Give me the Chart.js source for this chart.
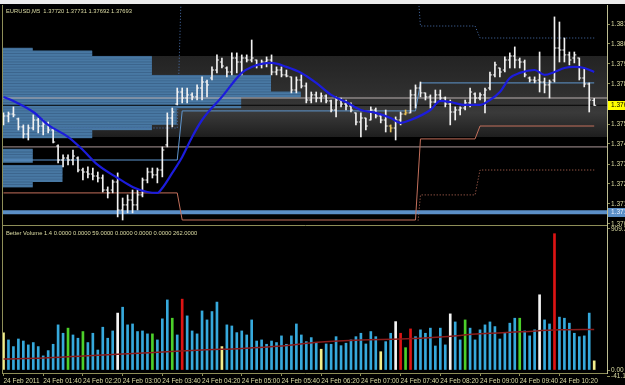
<!DOCTYPE html>
<html><head><meta charset="utf-8">
<script src="https://cdn.jsdelivr.net/npm/chart.js@4/dist/chart.umd.min.js"></script>
<style>
html,body{margin:0;padding:0;background:#000;width:625px;height:385px;overflow:hidden}
#topbar{position:absolute;left:0;top:0;width:625px;height:4px;background:#ececec}
canvas{position:absolute;left:0;top:0}
</style></head><body>
<div id="topbar"></div>
<canvas id="main" width="625" height="385"></canvas>
<canvas id="vol" width="625" height="385"></canvas>
<script>
// ---------------- DATA ----------------
const symbolTitle = 'EURUSD,M5  1.37720 1.37731 1.37692 1.37693';
const volumeTitle = 'Better Volume 1.4 0.0000 0.0000 59.0000 0.0000 0.0000 0.0000 262.0000';

const timeLabelBars = [0,8,16,24,32,40,48,56,64,72,80,88,96,104,112];
const timeLabels = ['24 Feb 2011','24 Feb 01:40','24 Feb 02:20','24 Feb 03:00','24 Feb 03:40','24 Feb 04:20','24 Feb 05:00','24 Feb 05:40','24 Feb 06:20','24 Feb 07:00','24 Feb 07:40','24 Feb 08:20','24 Feb 09:00','24 Feb 09:40','24 Feb 10:20'];

const barOpen = [
1.37601,1.37634,1.37645,1.37618,1.37574,1.37535,1.37568,1.37612,1.37579,1.37590,
1.37557,1.37469,1.37392,1.37403,1.37392,1.37403,1.37337,1.37326,1.37315,1.37304,
1.37293,1.37227,1.37227,1.37271,1.37117,1.37145,1.37172,1.37145,1.37200,1.37282,
1.37326,1.37310,1.37337,1.37475,1.37623,1.37700,1.37766,1.37733,1.37750,1.37739,
1.37788,1.37821,1.37843,1.37887,1.37931,1.37898,1.37876,1.37953,1.37931,1.37953,
1.37942,1.37942,1.37915,1.37931,1.37942,1.37876,1.37887,1.37860,1.37849,1.37777,
1.37832,1.37799,1.37722,1.37750,1.37733,1.37744,1.37717,1.37667,1.37722,1.37700,
1.37689,1.37651,1.37601,1.37623,1.37612,1.37667,1.37634,1.37612,1.37579,1.37568,
1.37612,1.37645,1.37651,1.37750,1.37788,1.37761,1.37739,1.37711,1.37750,1.37733,
1.37700,1.37656,1.37667,1.37678,1.37706,1.37755,1.37733,1.37750,1.37788,1.37860,
1.37898,1.37887,1.37942,1.37964,1.37942,1.37931,1.37843,1.37832,1.37832,1.37821,
1.37805,1.37832,1.38008,1.37997,1.37970,1.37953,1.37953,1.37843,1.37810,1.37720];
const barHigh = [
1.37651,1.37656,1.37684,1.37623,1.37585,1.37585,1.37640,1.37623,1.37612,1.37601,
1.37568,1.37475,1.37420,1.37420,1.37447,1.37409,1.37348,1.37354,1.37348,1.37326,
1.37310,1.37244,1.37282,1.37321,1.37183,1.37200,1.37227,1.37227,1.37293,1.37348,
1.37348,1.37348,1.37464,1.37651,1.37678,1.37788,1.37788,1.37788,1.37761,1.37805,
1.37849,1.37832,1.37904,1.37970,1.37953,1.37904,1.37981,1.37981,1.37970,1.37970,
1.38052,1.37942,1.37942,1.37959,1.37970,1.37904,1.37904,1.37887,1.37849,1.37849,
1.37860,1.37816,1.37766,1.37766,1.37761,1.37750,1.37722,1.37739,1.37733,1.37722,
1.37706,1.37651,1.37651,1.37623,1.37684,1.37678,1.37640,1.37667,1.37585,1.37629,
1.37656,1.37667,1.37777,1.37805,1.37821,1.37761,1.37750,1.37777,1.37777,1.37739,
1.37722,1.37684,1.37684,1.37722,1.37788,1.37761,1.37761,1.37788,1.37876,1.37931,
1.37898,1.37959,1.37981,1.38014,1.37953,1.37942,1.37849,1.37849,1.37986,1.37843,
1.37832,1.38179,1.38151,1.38063,1.37986,1.37986,1.37953,1.37898,1.37816,1.37731];
const barLow = [
1.37585,1.37601,1.37629,1.37557,1.37513,1.37502,1.37557,1.37541,1.37530,1.37541,
1.37486,1.37376,1.37354,1.37365,1.37365,1.37326,1.37282,1.37293,1.37282,1.37271,
1.37216,1.37183,1.37211,1.37079,1.37062,1.37101,1.37101,1.37117,1.37189,1.37266,
1.37293,1.37266,1.37299,1.37464,1.37574,1.37695,1.37706,1.37706,1.37722,1.37722,
1.37722,1.37739,1.37832,1.37871,1.37898,1.37849,1.37860,1.37871,1.37860,1.37931,
1.37931,1.37898,1.37898,1.37904,1.37860,1.37860,1.37849,1.37849,1.37761,1.37761,
1.37788,1.37706,1.37706,1.37711,1.37711,1.37706,1.37656,1.37629,1.37684,1.37667,
1.37656,1.37585,1.37519,1.37557,1.37612,1.37623,1.37596,1.37546,1.37546,1.37502,
1.37585,1.37640,1.37651,1.37678,1.37739,1.37722,1.37678,1.37706,1.37722,1.37684,
1.37585,1.37612,1.37640,1.37667,1.37684,1.37706,1.37722,1.37651,1.37777,1.37849,
1.37849,1.37876,1.37898,1.37898,1.37898,1.37849,1.37821,1.37816,1.37766,1.37761,
1.37733,1.37821,1.37931,1.37931,1.37915,1.37926,1.37832,1.37794,1.37656,1.37692];
const barClose = [
1.37634,1.37645,1.37640,1.37574,1.37535,1.37568,1.37612,1.37579,1.37590,1.37557,
1.37491,1.37392,1.37403,1.37392,1.37414,1.37337,1.37326,1.37315,1.37304,1.37293,
1.37227,1.37211,1.37271,1.37117,1.37145,1.37172,1.37145,1.37200,1.37282,1.37326,
1.37310,1.37337,1.37447,1.37623,1.37656,1.37766,1.37733,1.37750,1.37739,1.37788,
1.37821,1.37805,1.37887,1.37942,1.37909,1.37876,1.37953,1.37931,1.37953,1.37942,
1.37953,1.37915,1.37931,1.37942,1.37876,1.37887,1.37860,1.37854,1.37777,1.37832,
1.37799,1.37722,1.37750,1.37733,1.37744,1.37717,1.37667,1.37722,1.37700,1.37689,
1.37667,1.37601,1.37623,1.37579,1.37667,1.37634,1.37612,1.37579,1.37568,1.37612,
1.37645,1.37651,1.37750,1.37788,1.37761,1.37739,1.37711,1.37750,1.37733,1.37700,
1.37656,1.37667,1.37678,1.37706,1.37766,1.37733,1.37750,1.37777,1.37860,1.37915,
1.37876,1.37942,1.37964,1.37942,1.37931,1.37860,1.37832,1.37827,1.37821,1.37805,
1.37821,1.38008,1.37997,1.37970,1.37942,1.37970,1.37843,1.37810,1.37722,1.37693];
const tintedBars = [78, 81];

const maBars = [0,2,6,9,13,16,19,23,26,29,31,32,34,36,38,40,44,48,50,54,57,60,63,66,69,72,75,78,80,82,86,88,90,93,96,98,100,102,104,107,109,111,113,115,117,119];
const maValues = [1.37739,1.37717,1.37656,1.37585,1.37519,1.37447,1.37365,1.37293,1.37244,1.37216,1.37211,1.37238,1.37321,1.37409,1.37519,1.37612,1.37739,1.37871,1.37904,1.37926,1.37904,1.37871,1.37816,1.37750,1.37711,1.37667,1.37651,1.37623,1.37596,1.37612,1.37667,1.37717,1.37711,1.37695,1.37695,1.37722,1.37766,1.37843,1.37871,1.37887,1.37860,1.37876,1.37898,1.37904,1.37898,1.37876];

const upperDottedBars = [0,35,36,83,84,95,96,119];
const upperDottedValues = [1.37568,1.37568,1.38500,1.38500,1.38129,1.38129,1.38063,1.38063];
const channelBars = [0,35,36,83,84,119];
const channelValues = [1.37392,1.37392,1.37662,1.37662,1.37816,1.37816];
const lowerSolidBars = [0,35,36,83,84,95,96,119];
const lowerSolidValues = [1.37211,1.37211,1.37062,1.37062,1.37508,1.37508,1.37579,1.37579];
const lowerDottedBars = [0,83,84,95,96,119];
const lowerDottedValues = [1.36900,1.36900,1.37200,1.37200,1.37337,1.37337];

const levelGrey = 1.37733;
const levelBid = 1.37693;
const levelPink = 1.37464;
const levelBlue = 1.37105;
const bandTop = 1.37964;
const bandBottom = 1.37519;

const profilePrices = [1.38000,1.37985,1.37970,1.37955,1.37940,1.37925,1.37910,1.37895,1.37880,1.37865,1.37850,1.37835,1.37820,1.37805,1.37790,1.37775,1.37760,1.37745,1.37730,1.37715,1.37700,1.37685,1.37670,1.37655,1.37640,1.37625,1.37610,1.37595,1.37580,1.37565,1.37550,1.37535,1.37520,1.37505,1.37490,1.37475,1.37460,1.37445,1.37430,1.37415,1.37400,1.37385,1.37370,1.37355,1.37340,1.37325,1.37310,1.37295,1.37280,1.37265,1.37250];
const profileCounts = [6,18,18,30,30,30,30,30,30,30,54,54,54,54,54,54,60,60,48,48,48,48,35,35,35,35,35,35,30,30,18,18,18,0,0,0,0,6,6,6,6,6,0,12,12,12,12,12,12,6,6];

const priceTicks = [1.3814,1.3803,1.3792,1.3781,1.3770,1.3759,1.3748,1.3737,1.3726,1.3715,1.3704];

const volumes = [
239,194,151,200,187,162,177,151,91,125,
166,291,237,270,226,205,248,177,237,129,
276,205,252,367,405,291,297,248,252,233,
233,194,330,452,334,226,457,349,252,233,
381,323,377,438,151,291,284,241,252,226,
323,187,194,166,187,177,220,166,220,297,
226,183,209,172,134,168,166,215,157,173,
194,215,237,168,248,215,118,183,237,312,
237,144,265,215,259,237,270,155,270,162,
362,310,194,323,270,194,259,291,310,280,
200,237,302,334,334,252,220,259,485,323,
297,879,341,334,302,237,215,220,367,59];
const volGreen = [13,16,30,34,81,93,104];
const volRed = [36,80,82,111];
const volWhite = [23,79,90,108];
const volYellow = [0,44,64,76,119];
const volAvgBars = [0,8,16,24,32,40,48,56,64,72,80,88,96,104,112,119];
const volAvgValues = [71,78,91,103,116,129,139,155,181,194,200,213,233,246,259,262];
const volTicks = [909.3, 0, -41.1];
const volTickLabels = ['909.3','0.00','-41.1'];

// ---------------- STYLE ----------------
const X_MIN = -0.1, X_MAX = 121.58;
const Y_MIN = 1.37051, Y_MAX = 1.38239;
const V_MIN = -19.3, V_MAX = 928.6;
const FONT = {family: "'Liberation Sans', Arial, sans-serif", size: 6.5};
const TITLE_CSS = "5.8px 'Liberation Sans', Arial, sans-serif";
const BOX_CSS = "6.5px 'Liberation Sans', Arial, sans-serif";
const TEXT = '#dcdca4';
const OLIVE = '#8e8e58';
const PALE = '#bdbd92';
const WHITE = '#f2f2f2';
const TINT = '#e6c15a';

function pts(xs, ys) { return xs.map((x, i) => ({x: x, y: ys[i]})); }
function hline(v) { return [{x: X_MIN, y: v}, {x: X_MAX, y: v}]; }

const barColors = barHigh.map((_, i) => tintedBars.includes(i) ? TINT : WHITE);

function bandGradient(ctx) {
  const chart = ctx.chart;
  const a = chart.chartArea;
  if (!a) return '#2e2e2e';
  const y = chart.scales.y;
  const t = y.getPixelForValue(bandTop), b = y.getPixelForValue(bandBottom);
  const g = chart.ctx.createLinearGradient(0, t, 0, b);
  g.addColorStop(0, '#232323');
  g.addColorStop(0.45, '#2f2f2f');
  g.addColorStop(0.7, '#3a3a3a');
  g.addColorStop(1, '#1e1e1e');
  return g;
}

const mainPlugin = {
  id: 'mainDecor',
  afterDraw(chart) {
    const {ctx, chartArea: a, scales} = chart;
    ctx.save();
    ctx.textBaseline = 'middle'; ctx.textAlign = 'left';
    ctx.font = TITLE_CSS;
    ctx.fillStyle = TEXT;
    ctx.fillText(symbolTitle, a.left + 3, a.top + 5.5);
    ctx.font = BOX_CSS;
    [[levelBid, '#ffff00', '#000000'], [levelBlue, '#5b8fc7', '#e8f0ff']].forEach(([v, bg, fg]) => {
      const y = Math.round(scales.y.getPixelForValue(v));
      ctx.fillStyle = bg; ctx.fillRect(a.right + 1, y - 4, 20, 9);
      ctx.fillStyle = fg; ctx.fillText(v.toFixed(5), a.right + 4, y + 0.5);
    });
    ctx.lineWidth = 1;
    ctx.strokeStyle = OLIVE;
    ctx.beginPath(); ctx.moveTo(a.left - 0.5, 5); ctx.lineTo(a.left - 0.5, a.bottom + 4); ctx.stroke();
    ctx.strokeStyle = PALE;
    ctx.beginPath(); ctx.moveTo(a.right + 0.5, 5); ctx.lineTo(a.right + 0.5, a.bottom + 4); ctx.stroke();
    ctx.restore();
  }
};

const volPlugin = {
  id: 'volDecor',
  afterDraw(chart) {
    const {ctx, chartArea: a} = chart;
    ctx.save();
    ctx.lineWidth = 1;
    ctx.strokeStyle = OLIVE;
    ctx.beginPath();
    ctx.moveTo(a.left, a.top - 0.5); ctx.lineTo(a.right + 1, a.top - 0.5);
    ctx.moveTo(a.left - 0.5, a.top - 1); ctx.lineTo(a.left - 0.5, a.bottom + 1);
    ctx.moveTo(a.left, a.bottom + 0.5); ctx.lineTo(a.right + 1, a.bottom + 0.5);
    ctx.stroke();
    ctx.strokeStyle = PALE;
    ctx.beginPath(); ctx.moveTo(a.right + 0.5, a.top - 1); ctx.lineTo(a.right + 0.5, a.bottom + 1); ctx.stroke();
    ctx.font = TITLE_CSS; ctx.textBaseline = 'middle'; ctx.textAlign = 'left';
    ctx.fillStyle = TEXT;
    ctx.fillText(volumeTitle, a.left + 3, a.top + 7);
    ctx.restore();
  }
};

const lineBase = {type: 'line', pointRadius: 0, borderWidth: 1, fill: false, tension: 0};

new Chart(document.getElementById('main'), {
  type: 'bar',
  data: {
    datasets: [
      Object.assign({}, lineBase, {data: pts(maBars, maValues), borderColor: '#1c1cdc', borderWidth: 2.2, cubicInterpolationMode: 'monotone', order: 1}),
      {type: 'bar', data: barHigh.map((h, i) => ({x: i, y: [barLow[i], h]})), backgroundColor: barColors, barThickness: 1, grouped: false, order: 2},
      {type: 'scatter', data: barOpen.map((v, i) => ({x: i - 0.2, y: v})), pointStyle: 'line', pointRadius: 1, pointBorderWidth: 1, borderColor: barColors, pointBorderColor: barColors, order: 2},
      {type: 'scatter', data: barClose.map((v, i) => ({x: i + 0.2, y: v})), pointStyle: 'line', pointRadius: 1, pointBorderWidth: 1, borderColor: barColors, pointBorderColor: barColors, order: 2},
      Object.assign({}, lineBase, {data: pts(channelBars, channelValues), borderColor: '#5f96cf', order: 3}),
      Object.assign({}, lineBase, {data: pts(upperDottedBars, upperDottedValues), borderColor: '#4a72b0', borderDash: [1, 2], order: 3}),
      Object.assign({}, lineBase, {data: pts(lowerSolidBars, lowerSolidValues), borderColor: '#c4705c', order: 3}),
      Object.assign({}, lineBase, {data: pts(lowerDottedBars, lowerDottedValues), borderColor: '#c4705c', borderDash: [1, 2], order: 3}),
      Object.assign({}, lineBase, {data: hline(levelGrey), borderColor: '#b8aeae', order: 3}),
      Object.assign({}, lineBase, {data: hline(levelBid), borderColor: '#050505', order: 3}),
      Object.assign({}, lineBase, {data: hline(levelPink), borderColor: '#ad9898', order: 3}),
      Object.assign({}, lineBase, {data: hline(levelBlue), borderColor: '#5b8fc7', borderWidth: 4, order: 3}),
      {type: 'bar', indexAxis: 'y', data: profilePrices.map((p, i) => ({y: p, x: [X_MIN, profileCounts[i] - 0.1]})),
        backgroundColor: '#4878a3', borderColor: '#3c658d', borderWidth: {top: 1, bottom: 0, left: 0, right: 0}, borderSkipped: false,
        barThickness: 3.2, grouped: false, order: 5},
      Object.assign({}, lineBase, {data: hline(bandTop), borderWidth: 0, borderColor: 'rgba(0,0,0,0)', fill: '+1', backgroundColor: bandGradient, order: 6}),
      Object.assign({}, lineBase, {data: hline(bandBottom), borderWidth: 0, borderColor: 'rgba(0,0,0,0)', order: 6})
    ]
  },
  options: {
    responsive: false, animation: false, devicePixelRatio: 1, events: [],
    layout: {padding: {left: 3, top: 6, right: 0, bottom: 163}, autoPadding: false},
    plugins: {legend: {display: false}, tooltip: {enabled: false}},
    scales: {
      x: {type: 'linear', min: X_MIN, max: X_MAX, display: false, offset: false, grid: {offset: false}},
      y: {type: 'linear', position: 'right', min: Y_MIN, max: Y_MAX, offset: false,
        afterFit: s => { s.width = 18; },
        afterBuildTicks: s => { s.ticks = priceTicks.map(v => ({value: v})); },
        ticks: {color: TEXT, font: FONT, padding: 1, autoSkip: false, callback: v => Number(v).toFixed(5)},
        grid: {drawOnChartArea: false, drawTicks: true, tickLength: 3, color: OLIVE, offset: false},
        border: {display: false}}
    }
  },
  plugins: [mainPlugin]
});

const volColors = volumes.map((_, i) =>
  volGreen.includes(i) ? '#4cd02a' : volRed.includes(i) ? '#dd1414' : volWhite.includes(i) ? '#f4f4f4' : volYellow.includes(i) ? '#f2ee8c' : '#36a9dc');

new Chart(document.getElementById('vol'), {
  type: 'bar',
  data: {
    datasets: [
      Object.assign({}, lineBase, {data: pts(volAvgBars, volAvgValues), borderColor: '#8b1c1c', borderWidth: 1.5, cubicInterpolationMode: 'monotone', order: 1}),
      {type: 'bar', data: volumes.map((v, i) => ({x: i, y: v})), backgroundColor: volColors, barThickness: 2, grouped: false, order: 2}
    ]
  },
  options: {
    responsive: false, animation: false, devicePixelRatio: 1, events: [],
    layout: {padding: {left: 3, top: 226, right: 0, bottom: 0}, autoPadding: false},
    plugins: {legend: {display: false}, tooltip: {enabled: false}},
    scales: {
      x: {type: 'linear', position: 'bottom', min: X_MIN, max: X_MAX, offset: false,
        afterFit: s => { s.height = 12; },
        afterBuildTicks: s => { s.ticks = timeLabelBars.map(v => ({value: v})); },
        ticks: {color: TEXT, font: FONT, padding: 1, autoSkip: false, maxRotation: 0, minRotation: 0, align: 'start',
          callback: (v, i) => timeLabels[i]},
        grid: {drawOnChartArea: false, drawTicks: true, tickLength: 3, color: OLIVE, offset: false},
        border: {display: false}},
      y: {type: 'linear', position: 'right', min: V_MIN, max: V_MAX, offset: false,
        afterFit: s => { s.width = 18; },
        afterBuildTicks: s => { s.ticks = volTicks.map(v => ({value: v})); },
        ticks: {color: TEXT, font: FONT, padding: 1, autoSkip: false, callback: (v, i) => volTickLabels[i]},
        grid: {drawOnChartArea: false, drawTicks: true, tickLength: 3, color: OLIVE, offset: false},
        border: {display: false}}
    }
  },
  plugins: [volPlugin]
});
</script>
</body></html>
